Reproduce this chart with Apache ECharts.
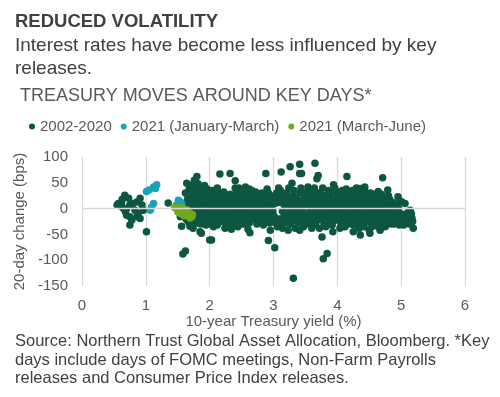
<!DOCTYPE html>
<html>
<head>
<meta charset="utf-8">
<script src="https://cdn.jsdelivr.net/npm/echarts@6/dist/echarts.min.js"></script>
<style>html,body{margin:0;padding:0;background:#fff}#c{width:500px;height:397px}</style>
</head>
<body>
<div id="c"></div>
<script>
// Data: [10y yield %, 20-day change bps]
const seriesNames = ['2002-2020', '2021 (January-March)', '2021 (March-June)'];
const xTicks = [0, 1, 2, 3, 4, 5, 6];
const yTicks = [-150, -100, -50, 0, 50, 100];

const points2002_2020 = [
  [0.57,10],[0.60,5],[0.62,11],[0.65,0],[0.67,26],[0.68,-6],[0.70,0],[0.70,-13],[0.73,20],[0.75,7],
  [0.75,-16],[0.75,-32],[0.78,-22],[0.80,10],[0.83,-3],[0.86,13],[0.86,-16],[0.88,-9],[0.91,20],[0.91,-19],
  [0.94,7],[0.96,-3],[1.01,-45],[1.35,11],[1.54,-16],[1.56,-34],[1.58,-88],[1.62,-82],[0.55,7],[0.63,18],
  [1.62,30],[1.64,49],[1.66,22],[1.68,38],[1.63,-20],[1.66,-25],[1.69,-34],[1.67,8],[1.65,15],[1.61,-10],
  [1.70,45],[1.72,35],[1.74,25],[1.76,55],[1.78,18],[1.71,10],[1.73,0],[1.75,-8],[1.77,-15],[1.79,-22],
  [1.72,-28],[1.76,30],[1.78,5],[1.74,-38],[1.79,42],[1.80,62],[1.70,20],[1.75,12],[1.78,-5],[1.73,-20],
  [1.81,35],[1.83,20],[1.85,10],[1.87,-2],[1.82,-12],[1.84,-20],[1.86,-30],[1.88,28],[1.89,15],[1.81,0],
  [1.83,-5],[1.85,-45],[1.87,-48],[1.88,-25],[1.89,40],[1.82,48],[1.86,25],[1.84,3],[1.88,-12],[1.81,-28],
  [1.91,30],[1.93,20],[1.95,8],[1.97,-5],[1.99,-15],[1.92,-25],[1.94,-32],[1.96,38],[1.98,25],[1.91,-8],
  [1.93,2],[1.95,-20],[1.97,12],[1.99,-30],[1.92,45],[2.00,-61],[1.94,30],[1.98,-2],[1.91,15],[1.96,-12],
  [2.01,25],[2.03,15],[2.05,5],[2.07,-8],[2.09,-18],[2.02,-28],[2.04,35],[2.06,-35],[2.08,20],[2.03,-61],
  [2.05,-12],[2.08,0],[2.10,30],[2.01,8],[2.04,-5],[2.06,14],[2.09,-25],[2.02,-18],
  [2.11,22],[2.13,10],[2.15,-2],[2.17,-15],[2.19,-25],[2.12,-32],[2.14,30],[2.16,67],[2.18,5],[2.12,40],
  [2.17,18],[2.19,-8],[2.11,0],[2.14,-20],[2.16,12],[2.19,25],[2.13,-10],
  [2.21,20],[2.23,8],[2.25,-5],[2.27,-18],[2.29,-28],[2.22,32],[2.24,-38],[2.26,15],[2.28,0],[2.32,68],
  [2.22,-12],[2.27,25],[2.21,0],[2.24,-25],[2.26,-12],[2.29,12],[2.23,20],
  [2.31,18],[2.33,5],[2.35,-8],[2.37,-20],[2.39,-30],[2.32,28],[2.34,-40],[2.36,12],[2.40,54],[2.40,40],
  [2.33,-15],[2.38,0],[2.31,-25],[2.35,22],[2.37,-10],[2.39,10],[2.34,-2],
  [2.41,22],[2.43,10],[2.45,-3],[2.47,-15],[2.49,-25],[2.42,32],[2.44,-35],[2.46,40],[2.48,5],[2.42,-10],
  [2.47,18],[2.50,-30],[2.41,0],[2.44,-20],[2.46,12],[2.49,-8],[2.43,25],
  [2.51,25],[2.53,12],[2.55,0],[2.57,-12],[2.59,-22],[2.52,35],[2.54,-30],[2.56,42],[2.58,8],[2.52,-8],
  [2.57,20],[2.60,-40],[2.51,-20],[2.54,18],[2.56,-5],[2.59,15],[2.53,2],
  [2.61,28],[2.63,15],[2.65,2],[2.67,-10],[2.69,-20],[2.62,38],[2.63,-47],[2.66,35],[2.68,10],[2.62,-28],
  [2.67,22],[2.70,-5],[2.61,-12],[2.64,-20],[2.66,-2],[2.69,5],[2.63,8],
  [2.71,25],[2.73,12],[2.75,0],[2.77,-12],[2.79,-22],[2.72,32],[2.74,-30],[2.76,18],[2.78,5],[2.73,-8],
  [2.78,28],[2.71,-18],[2.74,-2],[2.76,-15],[2.79,12],[2.72,5],
  [2.81,20],[2.83,8],[2.85,-5],[2.87,-15],[2.89,-25],[2.82,30],[2.84,-32],[2.86,14],[2.88,68],[2.88,2],
  [2.83,-10],[2.90,38],[2.81,-20],[2.84,-2],[2.86,-15],[2.89,15],[2.87,25],
  [2.91,15],[2.93,2],[2.95,-10],[2.97,-20],[2.95,-42],[2.92,-62],[2.96,25],[2.98,10],[2.99,-5],[2.92,30],
  [2.91,-15],[2.94,-28],[2.97,0],[2.99,18],
  [3.01,-15],[3.02,-76],[3.03,20],[3.05,30],[3.07,12],[3.09,-20],[3.04,-28],[3.06,-35],[3.08,40],[3.10,15],
  [3.02,10],[3.05,-22],[3.08,25],[3.10,-30],
  [3.11,35],[3.12,71],[3.13,20],[3.15,10],[3.17,-15],[3.19,-25],[3.14,-38],[3.16,28],[3.18,0],[3.20,-8],
  [3.12,-20],[3.14,-5],[3.17,15],[3.19,25],[3.15,-28],
  [3.21,30],[3.23,15],[3.25,5],[3.27,-12],[3.29,-25],[3.23,-42],[3.24,40],[3.26,81],[3.28,20],[3.29,49],
  [3.23,-5],[3.31,-135],[3.21,-18],[3.25,-30],[3.27,8],[3.29,-2],[3.22,22],
  [3.31,25],[3.33,12],[3.35,-2],[3.37,-15],[3.39,-28],[3.32,35],[3.34,-38],[3.36,20],[3.38,5],[3.41,86],
  [3.41,68],[3.41,-42],[3.31,-10],[3.34,-22],[3.36,-8],[3.39,15],[3.33,0],
  [3.44,68],[3.42,30],[3.44,15],[3.46,0],[3.48,-12],[3.45,-25],[3.47,-35],[3.49,22],[3.50,8],[3.43,40],
  [3.41,5],[3.43,-15],[3.46,-5],[3.48,30],[3.50,-22],
  [3.51,30],[3.53,18],[3.55,5],[3.57,-8],[3.59,-20],[3.52,-30],[3.54,42],[3.56,25],[3.58,-2],[3.60,-38],
  [3.51,-12],[3.53,-22],[3.56,-15],[3.58,12],[3.55,35],
  [3.61,28],[3.63,15],[3.65,88],[3.65,2],[3.67,-10],[3.69,-22],[3.62,-32],[3.64,40],[3.68,58],[3.70,64],
  [3.70,20],[3.61,-5],[3.63,-18],[3.66,-28],[3.68,8],[3.67,30],
  [3.71,30],[3.73,10],[3.75,-5],[3.77,-15],[3.79,-28],[3.72,-38],[3.74,22],[3.76,-55],[3.78,-97],[3.80,5],
  [3.77,40],[3.71,-2],[3.73,-20],[3.76,15],[3.79,-10],[3.75,28],
  [3.81,25],[3.83,12],[3.84,-87],[3.85,0],[3.87,-12],[3.89,-25],[3.82,-35],[3.86,35],[3.88,18],[3.90,-5],
  [3.81,-15],[3.84,-22],[3.86,8],[3.89,28],[3.83,-2],
  [3.91,30],[3.93,15],[3.94,46],[3.95,2],[3.97,-10],[3.99,-22],[3.92,-32],[3.96,40],[3.98,8],[4.00,25],
  [3.93,-45],[3.91,-12],[3.94,-20],[3.96,-5],[3.99,15],
  [4.01,20],[4.03,8],[4.05,-5],[4.07,-15],[4.09,-28],[4.02,32],[4.04,-38],[4.06,15],[4.08,35],[4.10,0],
  [4.01,-10],[4.03,-22],[4.06,-30],[4.08,-5],[4.05,25],
  [4.11,25],[4.13,12],[4.15,62],[4.15,0],[4.17,-12],[4.19,-25],[4.12,-35],[4.14,38],[4.16,18],[4.18,30],
  [4.20,-5],[4.11,-8],[4.13,-20],[4.16,-30],[4.19,10],
  [4.21,28],[4.23,15],[4.25,-45],[4.25,2],[4.27,-10],[4.29,-22],[4.22,-30],[4.24,35],[4.26,20],[4.28,8],
  [4.30,40],[4.21,-5],[4.23,-18],[4.26,-32],[4.29,25],
  [4.31,22],[4.36,-51],[4.33,10],[4.35,-2],[4.37,-15],[4.39,-28],[4.32,30],[4.34,-38],[4.36,39],[4.38,15],
  [4.40,0],[4.31,-10],[4.33,-25],[4.36,25],[4.39,-8],
  [4.41,25],[4.43,12],[4.45,0],[4.47,-12],[4.49,-25],[4.42,-35],[4.44,32],[4.46,18],[4.48,5],[4.50,-42],
  [4.41,-15],[4.44,-22],[4.46,-5],[4.49,20],[4.43,42],
  [4.51,-48],[4.51,20],[4.53,8],[4.55,-5],[4.57,-18],[4.59,-28],[4.52,30],[4.54,-35],[4.56,15],[4.58,28],
  [4.60,0],[4.52,-10],[4.55,-25],[4.57,2],[4.59,12],
  [4.61,22],[4.64,33],[4.63,10],[4.65,-2],[4.67,-42],[4.67,-15],[4.69,-25],[4.64,-35],[4.66,20],[4.68,5],
  [4.70,12],[4.61,-8],[4.63,-22],[4.66,-10],[4.69,28],
  [4.71,60],[4.72,20],[4.74,8],[4.76,-5],[4.79,36],[4.78,-18],[4.73,-28],[4.75,-35],[4.77,15],[4.79,2],
  [4.80,25],[4.71,-10],[4.74,-20],[4.77,-28],[4.72,0],
  [4.81,10],[4.83,-2],[4.85,-15],[4.87,-25],[4.89,-30],[4.82,18],[4.84,5],[4.86,-8],[4.88,0],[4.90,-20],
  [4.81,-20],[4.84,-30],[4.87,12],[4.89,-10],
  [4.91,-5],[4.93,-15],[4.95,-25],[4.95,23],[4.97,-32],[4.99,-10],[4.92,5],[4.94,-20],[4.98,15],
  [4.91,-28],[4.96,0],[4.99,-22],
  [5.01,13],[5.06,10],[5.04,-32],[5.06,-20],[5.08,-10],[5.10,-25],[5.12,-5],[5.14,-3],[5.16,-10],[5.19,-38],
  [5.15,-20],[5.13,-30],[5.17,-19],[5.11,-15],[5.18,-25]
];
const points2021JanMar = [
  [1.01,33],[1.05,36],[1.12,42],[1.15,39],[1.17,46],[1.12,10],[1.09,3],[1.07,-3],
  [1.48,7],[1.51,16],[1.56,10],[1.54,13]
];
const points2021MarJun = [
  [1.45,2],[1.48,0],[1.50,-2],[1.52,3],[1.55,-3],[1.57,-6],[1.58,0],[1.60,-8],[1.62,-10],[1.63,-4],
  [1.65,-12],[1.66,-6],[1.68,-14],[1.70,-10],[1.72,-16],[1.73,-12],[1.60,-14],[1.55,-10],[1.64,-2],
  [1.69,-18],[1.50,-6],[1.53,-8]
];

const colors = ['#0d5641', '#19a3b6', '#71a81c'];
const FONT = '"Liberation Sans", Arial, sans-serif';

const chart = echarts.init(document.getElementById('c'), null, {renderer: 'canvas'});
chart.setOption({
  animation: false,
  backgroundColor: '#ffffff',
  textStyle: {fontFamily: FONT},
  graphic: [
    {type: 'text', left: 15, top: 12, style: {text: 'REDUCED VOLATILITY', font: 'bold 18.5px ' + FONT, fill: '#404040'}},
    {type: 'text', left: 15, top: 36, style: {text: 'Interest rates have become less influenced by key', font: '19px ' + FONT, fill: '#404040'}},
    {type: 'text', left: 15, top: 59, style: {text: 'releases.', font: '19px ' + FONT, fill: '#404040'}},
    {type: 'text', left: 20, top: 87, style: {text: 'TREASURY MOVES AROUND KEY DAYS*', font: '18px ' + FONT, fill: '#595959'}},
    {type: 'text', left: 15, top: 333, style: {text: 'Source: Northern Trust Global Asset Allocation, Bloomberg. *Key', font: '16.5px ' + FONT, fill: '#404040'}},
    {type: 'text', left: 15, top: 351.5, style: {text: 'days include days of FOMC meetings, Non-Farm Payrolls', font: '16.5px ' + FONT, fill: '#404040'}},
    {type: 'text', left: 15, top: 370, style: {text: 'releases and Consumer Price Index releases.', font: '16.5px ' + FONT, fill: '#404040'}}
  ],
  legend: {
    left: 24, top: 114,
    icon: 'circle', itemWidth: 6, itemHeight: 6, itemGap: 9,
    textStyle: {fontSize: 15, color: '#595959', fontFamily: FONT, padding: [0, 0, 0, 0]},
    data: seriesNames
  },
  grid: {left: 82, right: 35, top: 157, bottom: 111},
  xAxis: {
    type: 'value', min: xTicks[0], max: xTicks[xTicks.length - 1], interval: 1,
    name: '10-year Treasury yield (%)', nameLocation: 'middle', nameGap: 27,
    nameTextStyle: {fontSize: 15, color: '#595959', fontFamily: FONT},
    axisLine: {show: false}, axisTick: {show: false},
    axisLabel: {fontSize: 15, color: '#595959', margin: 12, fontFamily: FONT},
    splitLine: {show: true, lineStyle: {color: '#d9d9d9', width: 1.3}}
  },
  yAxis: {
    type: 'value', min: yTicks[0], max: yTicks[yTicks.length - 1], interval: 50,
    name: '20-day change (bps)', nameLocation: 'middle', nameGap: 41,
    nameTextStyle: {fontSize: 15, color: '#595959', fontFamily: FONT},
    axisLine: {show: false}, axisTick: {show: false},
    axisLabel: {fontSize: 15, color: '#595959', margin: 14, fontFamily: FONT},
    splitLine: {show: false}
  },
  series: [
    {
      name: seriesNames[0], type: 'scatter', data: points2002_2020, symbolSize: 7.5,
      itemStyle: {color: colors[0], opacity: 1},
      markLine: {
        silent: true, symbol: 'none', label: {show: false},
        lineStyle: {color: '#d9d9d9', width: 1.3, type: 'solid'},
        data: [{yAxis: 0}]
      },
      z: 2
    },
    {name: seriesNames[1], type: 'scatter', data: points2021JanMar, symbolSize: 7.5, itemStyle: {color: colors[1], opacity: 1}, z: 3},
    {name: seriesNames[2], type: 'scatter', data: points2021MarJun, symbolSize: 7.5, itemStyle: {color: colors[2], opacity: 1}, z: 4}
  ]
});
</script>
</body>
</html>
